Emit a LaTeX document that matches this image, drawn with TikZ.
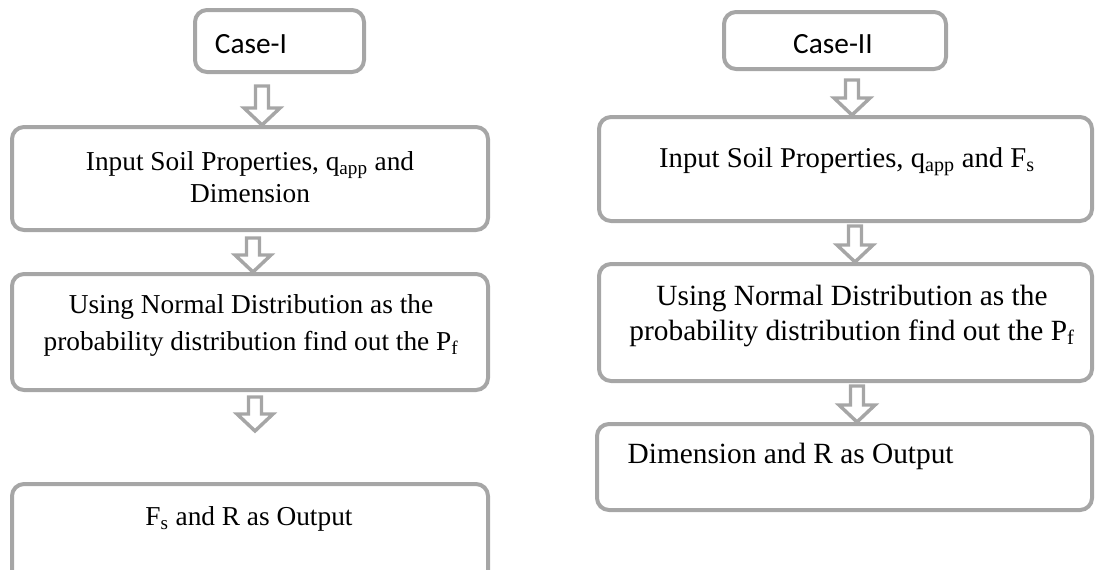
\documentclass[tikz,border=0pt]{standalone}
\usepackage{fontspec}
\setmainfont{Liberation Serif}
\newfontfamily\casefont{Carlito}
\usetikzlibrary{calc,fit}
\definecolor{boxgray}{RGB}{166,166,166}
\tikzset{
	box/.style={draw=boxgray,line width=3pt,rounded corners=9pt,inner sep=0pt},
	txt/.style={font=\fontsize{20.5}{27.75}\selectfont,align=center,anchor=base},
	bigtxt/.style={txt,font=\fontsize{22}{26.25}\selectfont},
	casetxt/.style={font=\casefont\fontsize{22}{26}\selectfont,anchor=base},
	blockarrow/.style={draw=boxgray,line width=2.6pt,fill=white,
		to path={($(\tikztostart)+(-6.5,#1)$) -- ($(\tikztostart)+(6.5,#1)$)
			-- ($(\tikztotarget)+(6.5,-17)$) -- ($(\tikztotarget)+(18,-17)$)
			-- (\tikztotarget) -- ($(\tikztotarget)+(-18,-17)$)
			-- ($(\tikztotarget)+(-6.5,-17)$) -- cycle}},
	blockarrow/.default=8
}
\begin{document}
\begin{tikzpicture}[x=0.75pt,y=-0.75pt]
		\clip (0,0) rectangle (1096,569);
		% Case-I
		\node [box,fit={(195,10) (364,72)}] (case1) {};
		\node [box,fit={(12,127) (488,230)}] (in1) {};
		\node [box,fit={(12,274) (488,390)}] (pf1) {};
		\node [box,fit={(12,484) (488,600)}] (out1) {};
		\node [casetxt] (case1t) at (251,53) {Case-I};
		\node [txt,font=\fontsize{20.5}{24}\selectfont] (in1t) at (250,202) {Input Soil Properties, q\textsubscript{app} and\\Dimension};
		\node [txt] (pf1t) at (251,350) {Using Normal Distribution as the\\probability distribution find out the P\textsubscript{f}};
		\node [txt] (out1t) at (249,525) {F\textsubscript{s} and R as Output};
		\coordinate (a3end) at (255,431);
		\draw [blockarrow=12] (case1.south -| 262,0) to (in1.north -| 262,0);
		\draw [blockarrow=6] (in1.south -| 253,0) to (pf1.north -| 253,0);
		\draw [blockarrow=5] (pf1.south -| 255,0) to (a3end);
		% Case-II
		\node [box,fit={(724,12) (946,69)}] (case2) {};
		\node [box,fit={(599,117) (1092,221)}] (in2) {};
		\node [box,fit={(599,264) (1092,381)}] (pf2) {};
		\node [box,fit={(597,424) (1092,510)}] (out2) {};
		\node [casetxt] (case2t) at (833,53) {Case-II};
		\node [bigtxt,font=\fontsize{21.5}{26}\selectfont] (in2t) at (847,167) {Input Soil Properties, q\textsubscript{app} and F\textsubscript{s}};
		\node [bigtxt] (pf2t) at (852,340) {Using Normal Distribution as the\\probability distribution find out the P\textsubscript{f}};
		\node [bigtxt,anchor=base west] (out2t) at (623,463) {Dimension and R as Output};
		\draw [blockarrow=9] (case2.south -| 852,0) to (in2.north -| 852,0);
		\draw [blockarrow=3] (in2.south -| 855,0) to (pf2.north -| 855,0);
		\draw [blockarrow=3] (pf2.south -| 857,0) to (out2.north -| 857,0);
\end{tikzpicture}
\end{document}
